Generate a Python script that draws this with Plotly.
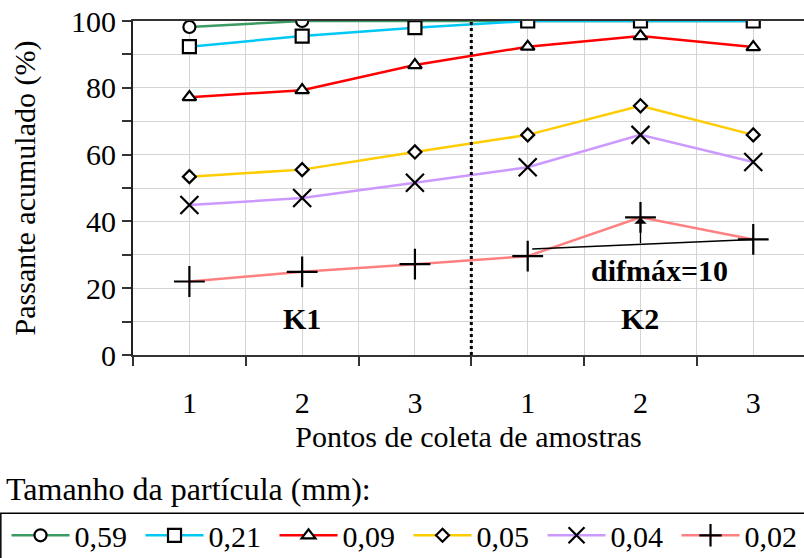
import plotly.graph_objects as go

# ---------------- data ----------------
points = [0, 1, 2, 3, 4, 5]
point_labels = ["1", "2", "3", "1", "2", "3"]
boundaries = [-0.5, 0.5, 1.5, 2.5, 3.5, 4.5, 5.5]
series_names = ["0,59", "0,21", "0,09", "0,05", "0,04", "0,02"]
p059 = [98.2, 100, 100, 100, 100, 100]
p021 = [92.3, 95.5, 98.0, 100, 100, 100]
p009 = [77.2, 79.3, 86.8, 92.3, 95.5, 92.2]
p005 = [53.4, 55.5, 60.8, 65.9, 74.6, 65.9]
p004 = [44.9, 47.0, 51.6, 56.2, 65.9, 57.8]
p002 = [22.0, 24.9, 27.2, 29.6, 41.2, 34.6]
series_values = [p059, p021, p009, p005, p004, p002]
y_ticks = [0, 20, 40, 60, 80, 100]
y_minor = [10, 30, 50, 70, 90]
group_labels = ["K1", "K2"]
group_centers = [1, 4]
group_split = 2.5
difmax_text = "difmáx=10"

# ---------------- style ----------------
FONT = "Liberation Serif"
FS = 30
colors = ["#3C9A63", "#00C8F5", "#FF0000", "#FFCC00", "#CC99FF", "#FF8080"]
symbols = ["circle", "square", "triangle-up", "diamond", "x-thin", "cross-thin"]
sizes = [12, 13, 12, 10, 18, 22]
GRID = "#d4d4d4"
AX = "#333333"

fig = go.Figure()
for name, vals, col, sym, sz in zip(series_names, series_values, colors, symbols, sizes):
    thin = sym.endswith("thin")
    fig.add_trace(go.Scatter(
        x=points, y=vals, name=name, mode="lines+markers",
        line=dict(color=col, width=2.5),
        marker=dict(symbol=sym, size=sz,
                    color="black" if thin else "white",
                    line=dict(color="black", width=2.2)),
    ))

# dotted separator between groups
fig.add_shape(type="line", xref="x", yref="paper", x0=group_split, x1=group_split,
              y0=0, y1=1, line=dict(color="black", width=3, dash="dot"))

# difmax construction: line between points 4 and 6 of the finest fraction,
# arrow up to point 5
lx0, ly0 = points[3] + 0.04, p002[3] + 2.1
lx1, ly1 = points[5], p002[5]
fig.add_shape(type="line", xref="x", yref="y", x0=lx0, y0=ly0, x1=lx1, y1=ly1,
              line=dict(color="black", width=1.5))
line_y_at_peak = ly0 + (ly1 - ly0) * (points[4] - lx0) / (lx1 - lx0)
fig.add_annotation(x=points[4], y=p002[4], ax=points[4], ay=line_y_at_peak,
                   xref="x", yref="y", axref="x", ayref="y", text="",
                   showarrow=True, arrowhead=1, arrowsize=1.6, arrowwidth=1.3,
                   arrowcolor="black")
fig.add_annotation(x=4.17, y=25.4, xref="x", yref="y", text="<b>%s</b>" % difmax_text,
                   showarrow=False, font=dict(family=FONT, size=FS, color="black"))

for lab, cx in zip(group_labels, group_centers):
    fig.add_annotation(x=cx, y=10.8, xref="x", yref="y", text="<b>%s</b>" % lab,
                       showarrow=False, font=dict(family=FONT, size=FS, color="black"))

# legend caption
fig.add_annotation(x=-0.192, y=-0.40, xref="paper", yref="paper",
                   text="Tamanho da partícula (mm):", showarrow=False,
                   xanchor="left", yanchor="middle",
                   font=dict(family=FONT, size=32, color="black"))
# legend frame (runs past the right/bottom edge like the original)
fig.add_shape(type="rect", xref="paper", yref="paper",
              x0=-0.197, x1=1.05, y0=-0.62, y1=-0.4735,
              line=dict(color="black", width=1.5), fillcolor="rgba(0,0,0,0)")

fig.update_layout(
    width=804, height=558,
    margin=dict(l=133, r=0, t=21, b=202.5, autoexpand=False),
    paper_bgcolor="white", plot_bgcolor="white",
    font=dict(family=FONT, size=FS, color="black"),
    showlegend=True,
    legend=dict(orientation="h", x=-0.1885, xanchor="left", y=-0.462, yanchor="top",
                font=dict(family=FONT, size=FS, color="black"),
                itemwidth=58, entrywidth=61, bgcolor="rgba(0,0,0,0)",
                borderwidth=0, tracegroupgap=0),
    xaxis=dict(range=[-0.5, 5.45], tickvals=points, ticktext=point_labels,
               ticks="", showgrid=True, gridcolor=GRID, gridwidth=1,
               showline=True, linecolor=AX, linewidth=2, mirror=True,
               zeroline=False, ticklabelstandoff=20,
               tickfont=dict(family=FONT, size=FS),
               minor=dict(tickvals=boundaries, ticks="outside", ticklen=9,
                          tickcolor=AX, tickwidth=1.5,
                          showgrid=True, gridcolor=GRID, gridwidth=1),
               title=dict(text="Pontos de coleta de amostras", standoff=8,
                          font=dict(family=FONT, size=FS))),
    yaxis=dict(range=[0, 100], tickvals=y_ticks,
               ticks="outside", ticklen=9, tickcolor=AX, tickwidth=1.5,
               showgrid=True, gridcolor=GRID, gridwidth=1,
               showline=True, linecolor="#222222", linewidth=2, zeroline=False,
               tickfont=dict(family=FONT, size=FS),
               minor=dict(tickvals=y_minor, ticks="outside", ticklen=9,
                          tickcolor=AX, tickwidth=1.5,
                          showgrid=True, gridcolor=GRID, gridwidth=1),
               title=dict(text="Passante acumulado (%)", standoff=27,
                          font=dict(family=FONT, size=FS))),
)

fig.write_html("out.html", config={"displayModeBar": False},
               post_script="document.body.style.margin='0';document.body.style.overflow='hidden';")
